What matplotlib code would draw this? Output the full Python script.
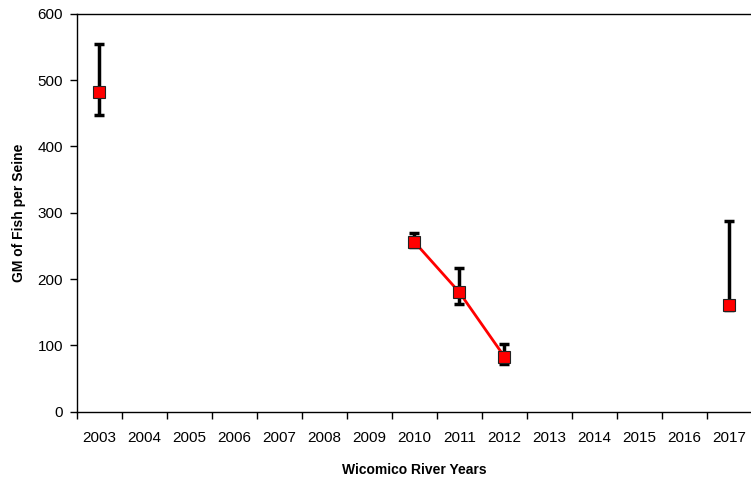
import numpy as np
import matplotlib
matplotlib.use('Agg')
import matplotlib.pyplot as plt

plt.rcParams['font.family'] = ['Liberation Sans', 'DejaVu Sans']

years = ['2003', '2004', '2005', '2006', '2007', '2008', '2009', '2010',
         '2011', '2012', '2013', '2014', '2015', '2016', '2017']
gm = [482, np.nan, np.nan, np.nan, np.nan, np.nan, np.nan, 256,
      180, 83, np.nan, np.nan, np.nan, np.nan, 161]
ci_low = [447, np.nan, np.nan, np.nan, np.nan, np.nan, np.nan, 248,
          163, 72, np.nan, np.nan, np.nan, np.nan, 153]
ci_high = [554, np.nan, np.nan, np.nan, np.nan, np.nan, np.nan, 270,
           217, 102, np.nan, np.nan, np.nan, np.nan, 288]

x = np.arange(len(years))
gm = np.array(gm, dtype=float)
lo = gm - np.array(ci_low, dtype=float)
hi = np.array(ci_high, dtype=float) - gm

fig = plt.figure(figsize=(7.51, 4.78), dpi=100)
ax = fig.add_axes([0.1025, 0.139, 0.8985, 0.8318])

# error bars under the markers
ax.errorbar(x, gm, yerr=[lo, hi], fmt='none', ecolor='black',
            elinewidth=2.5, capsize=3.5, capthick=2.5, zorder=2)
ax.plot(x, gm, color='red', linewidth=2, marker='s', markersize=9,
        markerfacecolor='red', markeredgecolor='#222222',
        markeredgewidth=0.8, zorder=3)

ax.set_xlim(-0.5, len(years) - 0.5)
ax.set_ylim(0, 600)
ax.set_yticks(np.arange(0, 601, 100))
ax.set_xticks(np.arange(-0.5, len(years), 1.0))
ax.set_xticklabels([])
ax.set_xticks(x, minor=True)
ax.set_xticklabels(years, minor=True)
ax.tick_params(axis='x', which='minor', length=0, pad=14, labelsize=11)
ax.tick_params(axis='x', which='major', length=5, width=1)
ax.tick_params(axis='y', length=5, width=1, labelsize=11, pad=5)

ax.spines['right'].set_visible(False)
for s in ['left', 'bottom', 'top']:
    ax.spines[s].set_linewidth(1)

ax.set_xlabel('Wicomico River Years', fontsize=10, fontweight='bold', labelpad=13)
ax.set_ylabel('GM of Fish per Seine', fontsize=10, fontweight='bold', labelpad=8)

fig.savefig('out.png', dpi=100)
